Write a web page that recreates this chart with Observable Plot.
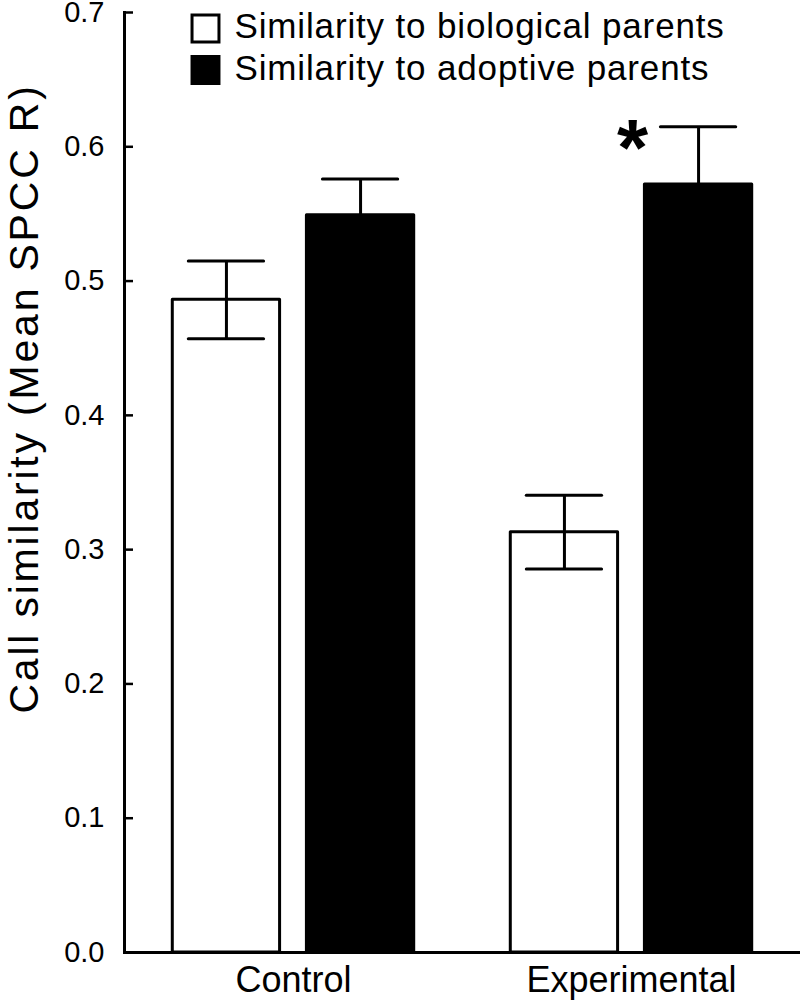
<!DOCTYPE html>
<html><head><meta charset="utf-8">
<script src="https://cdn.jsdelivr.net/npm/d3@7"></script>
<script src="https://cdn.jsdelivr.net/npm/@observablehq/plot@0.6"></script>
<style>
html,body{margin:0;padding:0;background:#fff;}
#chart{width:800px;height:1000px;}
</style></head><body><div id="chart"></div>
<script>
// ---- data ----
const groups = ["Control", "Experimental"];
const seriesNames = ["Similarity to biological parents", "Similarity to adoptive parents"];
const bioMean = [0.486, 0.313];
const bioSE = [0.029, 0.0275];
const adoptMean = [0.549, 0.572];
const adoptSE = [0.027, 0.043];
const seriesFill = ["white", "black"];
const yTicks = [0, 0.1, 0.2, 0.3, 0.4, 0.5, 0.6, 0.7];
const yLabel = "Call similarity (Mean SPCC R)";
const significance = [{group: "Experimental", series: seriesNames[1], label: "*"}];

// ---- table ----
const rows = [];
groups.forEach((g, i) => {
  rows.push({group: g, series: seriesNames[0], mean: bioMean[i], se: bioSE[i]});
  rows.push({group: g, series: seriesNames[1], mean: adoptMean[i], se: adoptSE[i]});
});
rows.forEach(d => { d.lo = d.mean - d.se; d.hi = d.mean + d.se; });
const sig = significance.map(s => ({...s, hi: rows.find(r => r.group === s.group && r.series === s.series).hi}));

const font = "'Liberation Sans', Arial, Helvetica, sans-serif";
const firstFacet = () => groups[0];

const legendMarks = seriesNames.flatMap((name, i) => [
  Plot.dot([name], {fx: firstFacet, frameAnchor: "top-left", dx: 81, dy: 16 + 41.5 * i,
    symbol: "square", r: 15.2, fill: seriesFill[i], stroke: "black", strokeWidth: 3}),
  Plot.text([name], {fx: firstFacet, frameAnchor: "top-left", text: d => d, textAnchor: "start",
    lineAnchor: "middle", fontSize: 35, fill: "black", dx: 110, dy: 14.5 + 41.5 * i})
]);

const plot = Plot.plot({
  width: 800, height: 1000,
  marginLeft: 123, marginRight: 0, marginTop: 12, marginBottom: 48,
  style: {fontFamily: font, background: "white", color: "black"},
  fx: {domain: groups, padding: 0, label: null},
  x: {domain: seriesNames, paddingInner: 0.2, paddingOuter: 0.36, round: false, axis: null},
  y: {domain: [0, 0.7], label: null},
  color: {domain: seriesNames, range: seriesFill},
  marks: [
    Plot.barY(rows, {fx: "group", x: "series", y: "mean", fill: "series", stroke: "black", strokeWidth: 3, strokeLinejoin: "round"}),
    Plot.ruleX(rows, {fx: "group", x: "series", y1: "lo", y2: "hi", stroke: "black", strokeWidth: 3}),
    Plot.tickY(rows, {fx: "group", x: "series", y: "lo", stroke: "black", strokeWidth: 3, insetLeft: 16, insetRight: 16, strokeLinecap: "round"}),
    Plot.tickY(rows, {fx: "group", x: "series", y: "hi", stroke: "black", strokeWidth: 3, insetLeft: 16, insetRight: 16, strokeLinecap: "round"}),
    Plot.ruleY([0], {stroke: "black", strokeWidth: 3}),
    Plot.frame({anchor: "left", facetAnchor: "left", stroke: "black", strokeWidth: 3}),
    Plot.axisY({ticks: yTicks, tickFormat: d3.format(".1f"), tickSize: -9, tickPadding: 29, fontSize: 29, strokeWidth: 2.5, label: null}),
    Plot.axisFx({anchor: "bottom", tickSize: 0, tickPadding: 14, fontSize: 36, label: null}),
    Plot.text(sig, {fx: "group", x: "series", y: "hi", text: "label", fontSize: 80, fontWeight: "bold", fill: "black", dx: -66, dy: 23, lineAnchor: "middle"}),
    ...legendMarks,
    Plot.text([yLabel], {fx: firstFacet, frameAnchor: "left", text: d => d, rotate: -90, textAnchor: "middle", lineAnchor: "top", fontSize: 41, fill: "black", dx: -116, dy: -84})
  ]
});
// slightly wider tracking, as in the reference typesetting
d3.select(plot).selectAll("text").each(function() {
  const t = this.textContent;
  if (t === yLabel) this.setAttribute("letter-spacing", "2.8");
  else if (seriesNames.includes(t)) this.setAttribute("letter-spacing", "0.85");
});
document.getElementById("chart").appendChild(plot);
</script>
</body></html>
